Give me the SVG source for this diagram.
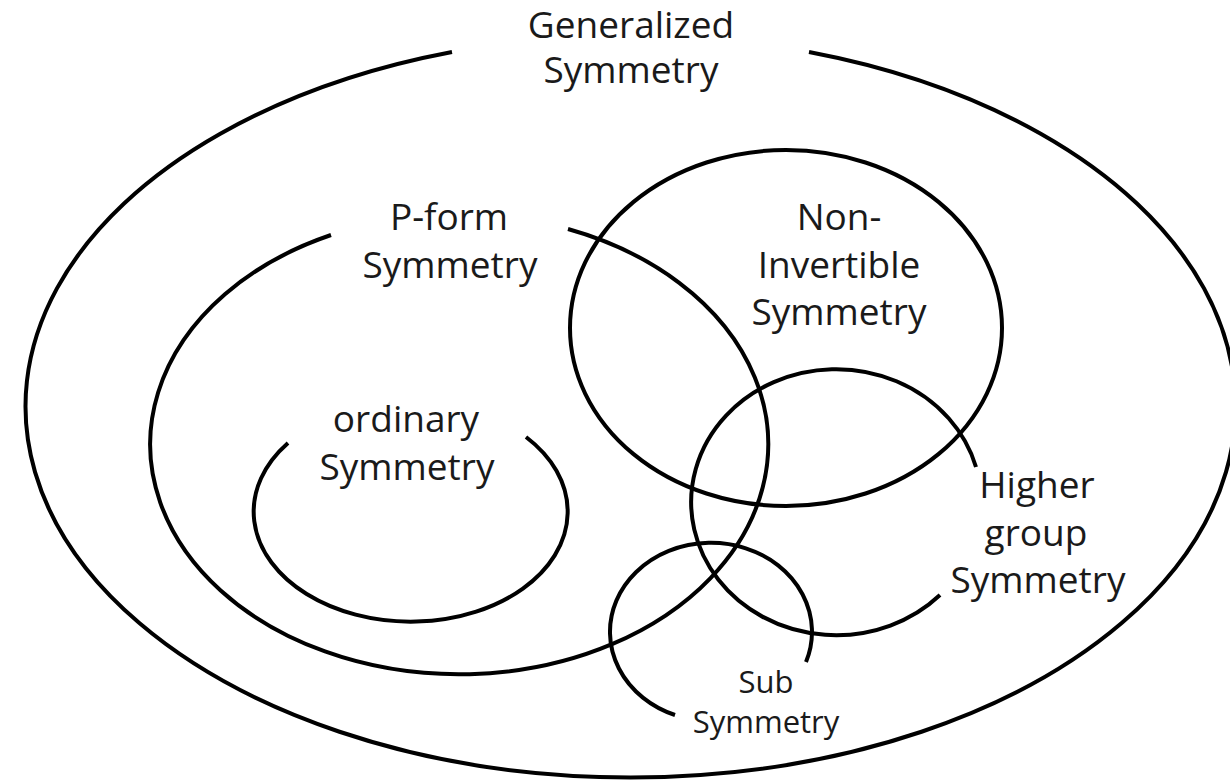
<svg xmlns="http://www.w3.org/2000/svg" width="1230" height="781" viewBox="0 0 1230 781">
<style>
.c{fill:none;stroke:#000;stroke-width:4;stroke-linecap:butt}
.t{font-family:"Open Sans","Noto Sans","Liberation Sans",sans-serif;font-size:37px;fill:#1a1a1a;text-anchor:middle}
.s{font-size:31px}
</style>
<rect width="1230" height="781" fill="#fff"/>
<g id="connectors">
<path id="outer" class="c" d="M452,52 A605,371 0 1 0 809,52"/>
<path id="pform" class="c" d="M331,235 A309,230 0 1 0 568,229"/>
<path id="ordinary" class="c" d="M288,443 A157,110 0 1 0 526,437"/>
<ellipse id="noninv" class="c" cx="786" cy="328" rx="216" ry="178"/>
<path id="higher" class="c" d="M976,467 A145,133 0 1 0 940,595"/>
<path id="sub" class="c" d="M806,662 A101,89 0 1 0 675,715"/>
</g>
<g id="node-generalized"><text class="t" x="631" y="38">Generalized</text><text class="t" x="631" y="83">Symmetry</text></g>
<g id="node-pform"><text class="t" x="449" y="230">P-form</text><text class="t" x="450" y="278">Symmetry</text></g>
<g id="node-noninvertible"><text class="t" x="839" y="230">Non-</text><text class="t" x="839" y="278">Invertible</text><text class="t" x="839" y="325">Symmetry</text></g>
<g id="node-ordinary"><text class="t" x="406" y="432">ordinary</text><text class="t" x="407" y="480">Symmetry</text></g>
<g id="node-higher"><text class="t" x="1037" y="498">Higher</text><text class="t" x="1036" y="546">group</text><text class="t" x="1038" y="593">Symmetry</text></g>
<g id="node-sub"><text class="t s" x="766" y="693">Sub</text><text class="t s" x="766" y="733">Symmetry</text></g>
</svg>
